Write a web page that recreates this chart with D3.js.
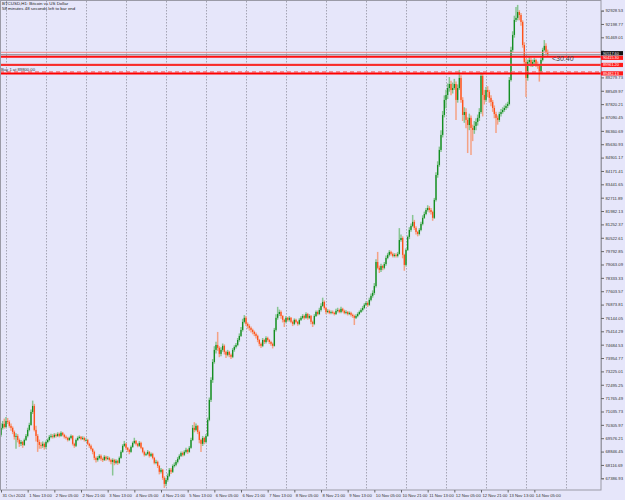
<!DOCTYPE html>
<html><head><meta charset="utf-8">
<script src="https://cdnjs.cloudflare.com/ajax/libs/d3/7.8.5/d3.min.js"></script>
<style>html,body{margin:0;padding:0;background:#E6E6FA;}svg{display:block;}</style>
</head><body>
<svg id="chart" width="625" height="500"></svg>
<script>
// ---------- DATA ----------
const symbolTitle = "BTCUSD,H1: Bitcoin vs US Dollar";
const timerText = "58 minutes 48 seconds left to bar end";
const firstOpen = 69760;
const close = [70140,70360,70190,70520,70470,70250,70140,69920,69650,69700,
69480,69270,69370,69210,69480,69700,70030,70300,71010,71340,
70030,69700,69370,69210,69160,69270,69100,69370,69480,69650,
69700,69650,69760,69700,69810,69700,69870,69760,69650,69590,
69480,69590,69700,69270,69160,69480,69590,69650,69540,69590,
69480,69480,69270,69160,68990,68830,68500,68390,68500,68610,
68450,68390,68560,68450,68500,68390,68280,68390,68230,68340,
68230,68500,68830,69160,69270,69050,68940,68830,69100,69320,
69430,69270,69160,69320,69050,68830,68670,68720,68830,68610,
68720,68500,68230,68280,68060,67740,67850,67410,67080,67300,
67520,67850,67740,68060,68120,68280,68450,68610,68770,68670,
68830,68940,68830,69050,69480,70140,70030,70250,69920,69480,
69270,69590,69370,69700,70580,71670,72760,73740,74400,74670,
74510,74180,74400,74620,74290,74130,74290,74130,74020,74400,
74560,74670,74940,75160,75490,75930,76150,75820,75710,75600,
75490,75380,75270,75160,74940,74730,74620,74940,74830,75050,
74940,74830,74730,74620,75490,76150,76360,76470,76250,76040,
75930,76150,76040,76150,75930,75820,76040,75930,75820,76040,
76150,76250,76150,76360,76150,76250,75930,75820,76250,76470,
76360,76580,76800,77020,76690,76470,76530,76420,76470,76420,
76360,76530,76580,76470,76640,76530,76420,76470,76360,76420,
76310,76250,76150,76250,76360,76470,76580,76690,76860,76960,
76860,77130,77350,77510,77890,79200,78880,78770,78980,78880,
79090,79420,79590,79750,79640,79530,79590,79530,79640,80400,
80510,79590,79040,79860,80570,80950,81170,81390,81060,80840,
80730,80950,81280,81610,81820,82040,82150,82040,81930,81610,
82590,83950,84500,85320,86140,87230,88050,88320,88700,88920,
88590,88700,88920,88050,88700,89250,88050,87230,87390,86960,
86680,87070,86520,86410,86630,86850,87070,87390,89360,88320,
88050,88590,88490,88160,87940,87610,87280,87070,86960,87280,
87390,87500,87610,87720,87830,89140,90780,91600,92420,92530,
92850,92690,92310,91050,90120,89250,90120,90230,90010,90120,
90230,90010,89900,89580,90230,90780,91000,90670,90560];
const high = [70400,70520,70650,70740,70680,70560,70380,70220,70000,69850,
69800,69560,69480,69430,69560,69800,70150,70420,71150,71630,
71450,70250,69800,69500,69350,69400,69350,69450,69560,69750,
69820,69800,69850,69830,69900,69880,69950,69920,69820,69720,
69650,69660,69780,69750,69330,69560,69680,69730,69700,69680,
69660,69580,69540,69330,69230,69050,68900,68580,68600,68700,
68680,68520,68650,68620,68600,68560,68450,68480,68450,68430,
68400,68580,68920,69250,69430,69320,69100,69000,69180,69400,
69600,69480,69320,69420,69380,69100,68900,68800,68930,68880,
68800,68780,68560,68400,68350,68120,67950,67900,67500,67420,
67650,67950,67950,68150,68250,68380,68550,68700,68850,68850,
68920,69050,69000,69150,69600,70300,70450,70380,70300,70000,
69550,69700,69650,69800,70700,71800,72900,73900,74600,74850,
75380,74600,74550,74750,74700,74350,74400,74350,74200,74500,
74650,74780,75050,75300,75650,76100,76300,76250,75900,75800,
75680,75560,75450,75350,75230,75000,74800,75050,75000,75150,
75120,75000,74900,74800,75600,76350,76750,76600,76550,76300,
76100,76250,76200,76250,76200,76000,76120,76100,75980,76130,
76250,76350,76320,76450,76420,76350,76300,76000,76350,76550,
76550,76700,76950,77250,77100,76750,76620,76600,76550,76550,
76480,76650,76700,76650,76750,76700,76600,76560,76520,76500,
76480,76380,76320,76350,76450,76550,76680,76800,76950,77050,
77050,77250,77480,77650,78050,79350,79750,79000,79100,79050,
79200,79550,79700,79850,79820,79720,79680,79680,79750,81050,
80700,80600,79650,79950,80650,81100,81300,81770,81500,81150,
80900,81050,81400,81750,81950,82150,82300,82250,82150,82000,
82700,84100,84700,85500,86400,87450,88300,88600,88950,89300,
89100,89000,89200,89050,88900,89690,89400,88200,87650,87600,
87100,87300,87200,86700,86900,87050,87250,87600,89550,89500,
88600,88750,88800,88600,88300,88050,87750,87400,87200,87400,
87550,87650,87750,87850,87950,89300,90950,91800,92650,93120,
93240,92950,92800,92400,91200,90300,90250,90400,90350,90250,
90350,90300,90150,90000,90350,90900,91320,91150,90800];
const low = [69650,70050,70100,70120,70350,70150,69990,69800,69500,69000,
69350,69100,69150,69050,69150,69420,69620,69950,70250,70900,
69950,69400,68830,69000,69000,69050,68950,69000,69300,69400,
69580,69560,69580,69620,69640,69620,69650,69680,69560,69500,
69400,69420,69520,69180,69050,69100,69420,69540,69460,69480,
69400,69400,69200,69050,68900,68700,68380,68250,68300,68420,
68350,68280,68330,68350,68380,68300,68150,67540,68100,68150,
68120,68180,68450,68780,69100,68950,68820,68700,68780,69050,
69250,69180,69080,69100,68980,68750,68580,68600,68650,68520,
68550,68420,68150,68150,67950,67600,67650,67300,66860,66950,
67200,67450,67620,67680,67980,68050,68200,68380,68550,68580,
68600,68750,68720,68780,69000,69420,69900,69950,69800,69300,
68830,69150,69250,69300,69650,70500,71550,72600,73650,74200,
74350,74000,74050,74300,74150,73950,74050,74000,73900,73950,
74300,74480,74600,74850,75100,75400,75850,75700,75550,75450,
75350,75250,75150,75020,74820,74600,74500,74550,74720,74750,
74850,74720,74620,74480,74580,75400,76050,76250,76100,75900,
75650,75850,75950,75950,75850,75700,75750,75850,75720,75750,
75980,76080,76050,76100,76050,76080,75800,75650,75750,76200,
76280,76300,76500,76750,76600,76350,76400,76350,76350,76350,
76280,76300,76450,76400,76400,76450,76350,76350,76280,76300,
76220,76150,75760,76080,76180,76300,76420,76500,76620,76800,
76750,76800,77050,77250,77400,77800,78800,78600,78650,78750,
78800,79000,79350,79500,79550,79450,79450,79450,79450,79600,
80300,79400,78720,78950,79800,80450,80850,81100,80950,80700,
80600,80650,80880,81200,81550,81750,81950,81900,81800,81450,
81550,82500,83800,84400,85200,86000,87100,87600,88100,88500,
88300,88400,88600,86960,87900,88600,87900,86900,86800,86500,
85150,86400,85040,85800,86200,86400,86650,86900,87300,87150,
87800,87950,88200,87900,87700,87400,87050,86250,86700,86850,
87150,87300,87400,87500,87600,87750,89050,90650,91450,92300,
92400,92400,92100,90900,89900,88210,89100,89900,89850,89850,
90000,89850,89750,89050,89500,90150,90700,90550,90450];

const priceTicks = [92928.53,92198.77,91469.01,90739.25,90009.49,89279.73,88549.97,87820.21,
87090.45,86360.69,85630.93,84901.17,84171.41,83441.65,82711.89,81982.13,81252.37,80522.61,
79792.85,79063.09,78333.33,77603.57,76873.81,76144.05,75414.29,74684.53,73954.77,73225.01,
72495.25,71765.49,71035.73,70305.97,69576.21,68846.45,68116.69,67386.93];
// ticks whose text sits under the price tags on the axis
const hiddenTicks = [90739.25, 90009.49];

const timeLabelBars = [0,16,32,48,64,80,96,112,128,144,160,176,192,208,224,240,256,272,288,304,320];
const timeLabels = ["31 Oct 2024","1 Nov 13:00","2 Nov 05:00","2 Nov 21:00","3 Nov 13:00","4 Nov 05:00",
"4 Nov 21:00","5 Nov 13:00","6 Nov 05:00","6 Nov 21:00","7 Nov 13:00","8 Nov 05:00","8 Nov 21:00",
"9 Nov 13:00","10 Nov 05:00","10 Nov 21:00","11 Nov 13:00","12 Nov 05:00","12 Nov 21:00",
"13 Nov 13:00","14 Nov 05:00"];
const dayGridBars = [3,27,51,75,99,123,147,171,195,219,243,267,291,315,339];

// horizontal levels (price) and their labels
const askPrice = 90650;
const bidPrice = 90520;
const bidLabel = "90517.60";
const levelPrices = [90410, 89960, 89500];
const levelLabels = ["90415.30", "89961.20", "89482.13"];
const orderText = "Buy 1 at 89800.00";
const spreadText = "<30.40";

// ---------- DRAW ----------
const W = 625, H = 500, right = 601, bottom = 490;
const svg = d3.select("#chart");
svg.append("rect").attr("width", W).attr("height", H).attr("fill", "#E6E6FA");

const x = d3.scaleLinear().domain([0, 360]).range([1, 601]);
const y = d3.scaleLinear().domain([67386.93, 92928.53]).range([478.3, 10.6]);

const font = "Liberation Sans, Arial, sans-serif";

// grid
svg.append("g").selectAll("line").data(dayGridBars).join("line")
  .attr("x1", d => Math.round(x(d)) + 0.5).attr("x2", d => Math.round(x(d)) + 0.5)
  .attr("y1", 1).attr("y2", bottom)
  .attr("stroke", "#a4a4b4").attr("stroke-width", 1).attr("stroke-dasharray", "1.5,1.5");

// candles
const bars = close.map((c, i) => ({ i, o: i === 0 ? firstOpen : close[i - 1], c, h: high[i], l: low[i] }));
const plot = svg.append("g");
plot.selectAll("line.wick").data(bars).join("line")
  .attr("class", "wick")
  .attr("x1", d => x(d.i)).attr("x2", d => x(d.i))
  .attr("y1", d => y(d.h)).attr("y2", d => y(d.l))
  .attr("stroke", d => d.c >= d.o ? "#88c592" : "#f4a285").attr("stroke-width", 1.5);
plot.selectAll("rect.body").data(bars).join("rect")
  .attr("class", "body")
  .attr("x", d => x(d.i) - 0.6).attr("width", 1.2)
  .attr("y", d => y(Math.max(d.o, d.c)))
  .attr("height", d => Math.max(0.8, Math.abs(y(d.o) - y(d.c))))
  .attr("fill", d => d.c >= d.o ? "#0c8a1c" : "#ff4c14");

// horizontal levels
const lv = svg.append("g");
lv.append("line").attr("x1", 0).attr("x2", right).attr("y1", y(askPrice)).attr("y2", y(askPrice))
  .attr("stroke", "#f08a8a").attr("stroke-width", 1);
lv.append("line").attr("x1", 0).attr("x2", right).attr("y1", y(bidPrice)).attr("y2", y(bidPrice))
  .attr("stroke", "#707070").attr("stroke-width", 0.8);
lv.append("line").attr("x1", 0).attr("x2", right).attr("y1", y(levelPrices[0])).attr("y2", y(levelPrices[0]))
  .attr("stroke", "#ff1010").attr("stroke-width", 2);
lv.append("line").attr("x1", 0).attr("x2", right).attr("y1", y(levelPrices[1])).attr("y2", y(levelPrices[1]))
  .attr("stroke", "#f06060").attr("stroke-width", 2.2);
lv.append("line").attr("x1", 0).attr("x2", right).attr("y1", y(levelPrices[1])).attr("y2", y(levelPrices[1]))
  .attr("stroke", "#ff0000").attr("stroke-width", 1);
lv.append("line").attr("x1", 0).attr("x2", right).attr("y1", y(levelPrices[2]) - 1.6).attr("y2", y(levelPrices[2]) - 1.6)
  .attr("stroke", "#f07878").attr("stroke-width", 1.2).attr("stroke-dasharray", "4,3");
lv.append("line").attr("x1", 0).attr("x2", right).attr("y1", y(levelPrices[2])).attr("y2", y(levelPrices[2]))
  .attr("stroke", "#ff0000").attr("stroke-width", 2);

svg.append("text").attr("x", 1).attr("y", y(levelPrices[2]) - 2.6)
  .attr("font-family", font).attr("font-size", 4.2).attr("fill", "#333").text(orderText);
svg.append("text").attr("x", 552).attr("y", y(levelPrices[0]) + 4.2)
  .attr("font-family", font).attr("font-size", 7).attr("fill", "#444").text(spreadText);

// frame
svg.append("rect").attr("x", 0.5).attr("y", 0.5).attr("width", right - 0.5).attr("height", bottom - 0.5)
  .attr("fill", "none").attr("stroke", "#9a9aa6").attr("stroke-width", 1);

// price axis
const ya = svg.append("g").attr("transform", `translate(${right},0)`)
  .call(d3.axisRight(y).tickValues(priceTicks).tickSize(3).tickPadding(1.5)
    .tickFormat(d => hiddenTicks.includes(d) ? "" : d3.format(".2f")(d)));
ya.select(".domain").attr("stroke", "#9a9aa6");
ya.selectAll(".tick line").attr("stroke", "#666");
ya.selectAll("text").attr("font-family", font).attr("font-size", 4.2).attr("fill", "#333");

// time axis
const xa = svg.append("g").attr("transform", `translate(0,${bottom})`)
  .call(d3.axisBottom(x).tickValues(timeLabelBars).tickSize(2.5).tickPadding(1.5)
    .tickFormat((d, i) => timeLabels[i]));
xa.select(".domain").remove();
xa.selectAll(".tick line").attr("stroke", "#666");
xa.selectAll("text").attr("font-family", font).attr("font-size", 4.2).attr("fill", "#333")
  .attr("text-anchor", "start").attr("dx", 1);

// right-axis price tags
const tags = [
  { p: levelPrices[0], t: levelLabels[0], bg: "#ff1a1a", dy: 1.1 },
  { p: levelPrices[1], t: levelLabels[1], bg: "#ff1a1a", dy: 0 },
  { p: levelPrices[2], t: levelLabels[2], bg: "#ff1a1a", dy: 0 },
  { p: bidPrice, t: bidLabel, bg: "#101010", dy: -1.5 }
];
const tg = svg.append("g").selectAll("g").data(tags).join("g")
  .attr("transform", d => `translate(${right},${y(d.p) + d.dy})`);
tg.append("rect").attr("x", 0).attr("y", -2.1).attr("width", 22).attr("height", 4.2).attr("fill", d => d.bg);
tg.append("text").attr("x", 2).attr("y", 1.3).attr("font-family", font).attr("font-size", 3.8)
  .attr("fill", "#fff").text(d => d.t);

// title
svg.append("text").attr("x", 2).attr("y", 5).attr("font-family", font).attr("font-size", 4.4)
  .attr("fill", "#222").text(symbolTitle);
svg.append("text").attr("x", 2).attr("y", 10).attr("font-family", font).attr("font-size", 4.4)
  .attr("fill", "#222").text(timerText);
</script>
</body></html>
